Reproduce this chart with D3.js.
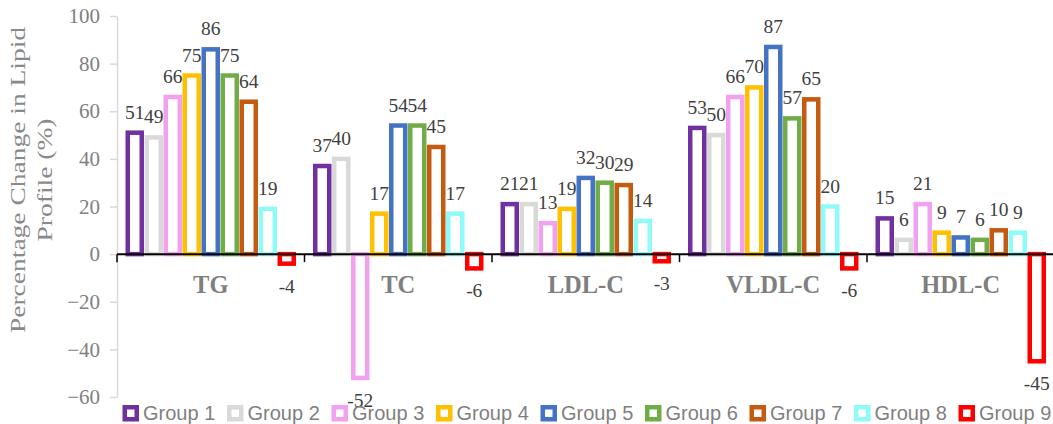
<!DOCTYPE html>
<meta charset="utf-8">
<style>

body {
  margin: 0;
  background: #fff;
}

text {
  font-family: "Liberation Serif", "Times New Roman", serif;
}

.axis text {
  font-size: 21px;
  fill: #7f7f7f;
}

.axis .domain,
.axis .tick line {
  stroke: #d9d9d9;
  stroke-width: 1.5px;
}

.label {
  font-size: 19.5px;
  fill: #404040;
  text-anchor: middle;
}

.category {
  font-size: 24.5px;
  font-weight: bold;
  fill: #7f7f7f;
  text-anchor: middle;
}

.legend text {
  font-family: "Liberation Sans", Arial, sans-serif;
  font-size: 20px;
  fill: #7f7f7f;
}

</style>
<svg width="1053" height="424"></svg>
<script src="https://cdn.jsdelivr.net/npm/d3@7"></script>
<script>

var categories = ["TG", "TC", "LDL-C", "VLDL-C", "HDL-C"];
var groups = ["Group 1", "Group 2", "Group 3", "Group 4", "Group 5", "Group 6", "Group 7", "Group 8", "Group 9"];
var colors = ["#7030a0", "#d9d9d9", "#f2a0f0", "#ffc000", "#4472c4", "#70ad47", "#c55a11", "#8ffafa", "#ff0000"];

// one array per group, values in category order
var group1 = [51, 37, 21, 53, 15];
var group2 = [49, 40, 21, 50, 6];
var group3 = [66, -52, 13, 66, 21];
var group4 = [75, 17, 19, 70, 9];
var group5 = [86, 54, 32, 87, 7];
var group6 = [75, 54, 30, 57, 6];
var group7 = [64, 45, 29, 65, 10];
var group8 = [19, 17, 14, 20, 9];
var group9 = [-4, -6, -3, -6, -45];

var yTicks = [-60, -40, -20, 0, 20, 40, 60, 80, 100];

var series = [group1, group2, group3, group4, group5, group6, group7, group8, group9];

var svg = d3.select("svg"),
    left = 117,
    right = 1054.5,
    barWidth = 14,
    barStroke = 4.5;

var y = d3.scaleLinear()
    .domain([-60, 100])
    .range([397, 16]);

var x0 = d3.scaleBand()
    .domain(categories)
    .range([left, right]);

var x1 = d3.scaleBand()
    .domain(groups)
    .range([8.25, x0.bandwidth() - 8.25]);

var bars = [];
series.forEach(function(values, i) {
  values.forEach(function(v, j) {
    bars.push({group: groups[i], color: colors[i], category: categories[j], value: v});
  });
});

function cx(d) { return x0(d.category) + x1(d.group) + x1.bandwidth() / 2; }

svg.append("g")
    .attr("class", "axis")
    .attr("transform", "translate(" + left + ",0)")
    .call(d3.axisLeft(y).tickValues(yTicks).tickSize(7).tickSizeOuter(0).tickPadding(10))
    .attr("font-family", null)
    .attr("font-size", null);

svg.append("g")
  .selectAll("rect")
  .data(bars)
  .enter().append("rect")
    .attr("x", function(d) { return cx(d) - barWidth / 2; })
    .attr("y", function(d) { return y(Math.max(d.value, 0)); })
    .attr("width", barWidth)
    .attr("height", function(d) { return Math.abs(y(d.value) - y(0)); })
    .attr("fill", "#fff")
    .attr("stroke", function(d) { return d.color; })
    .attr("stroke-width", barStroke);

// zero line with category ticks
svg.append("line")
    .attr("x1", left)
    .attr("x2", 1053)
    .attr("y1", y(0))
    .attr("y2", y(0))
    .attr("stroke", "#000")
    .attr("stroke-width", 2);

svg.append("g")
  .selectAll("line")
  .data(categories)
  .enter().append("line")
    .attr("x1", function(d) { return x0(d); })
    .attr("x2", function(d) { return x0(d); })
    .attr("y1", y(0))
    .attr("y2", y(0) + 8)
    .attr("stroke", "#000")
    .attr("stroke-width", 1.5);

svg.append("g")
  .selectAll("text")
  .data(bars)
  .enter().append("text")
    .attr("class", "label")
    .attr("x", cx)
    .attr("y", function(d) { return d.value >= 0 ? y(d.value) - 14 : y(d.value) + 29; })
    .text(function(d) { return d.value; });

svg.append("g")
  .selectAll("text")
  .data(categories)
  .enter().append("text")
    .attr("class", "category")
    .attr("x", function(d) { return x0(d) + x0.bandwidth() / 2; })
    .attr("y", 293)
    .text(function(d) { return d; });

var title = svg.append("text")
    .attr("transform", "translate(0,180) rotate(-90) scale(1.25,1)")
    .attr("text-anchor", "middle")
    .attr("font-size", "22px")
    .attr("fill", "#898989");

title.append("tspan").attr("x", 0).attr("y", 25).text("Percentage Change in Lipid");
title.append("tspan").attr("x", 0).attr("y", 52).text("Profile (%)");

var legend = svg.append("g")
    .attr("class", "legend")
  .selectAll("g")
  .data(groups)
  .enter().append("g")
    .attr("transform", function(d, i) { return "translate(" + (122.5 + i * 104.5) + ",405)"; });

legend.append("rect")
    .attr("x", 2.25)
    .attr("y", 2.25)
    .attr("width", 12)
    .attr("height", 12)
    .attr("fill", "#fff")
    .attr("stroke", function(d, i) { return colors[i]; })
    .attr("stroke-width", 4.5);

legend.append("text")
    .attr("x", 20.5)
    .attr("y", 14.5)
    .text(function(d) { return d; });

</script>
